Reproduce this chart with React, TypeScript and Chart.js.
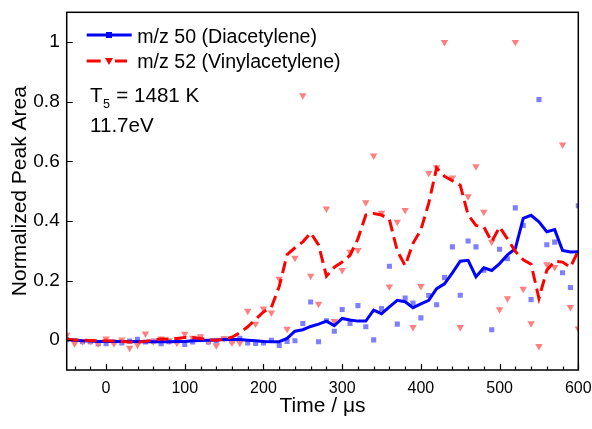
import React, { useEffect, useRef } from "react";
import { Chart, registerables } from "chart.js";

Chart.register(...registerables);

const FONT = 'Arial, "Liberation Sans", Helvetica, sans-serif';

const times = [
  -50, -40, -30, -20, -10, 0, 10, 20, 30, 40,
  50, 60, 70, 80, 90, 100, 110, 120, 130, 140,
  150, 160, 170, 180, 190, 200, 210, 220, 230, 240,
  250, 260, 270, 280, 290, 300, 310, 320, 330, 340,
  350, 360, 370, 380, 390, 400, 410, 420, 430, 440,
  450, 460, 470, 480, 490, 500, 510, 520, 530, 540,
  550, 560, 570, 580, 590, 600,
];

const diaPoints = [
  0.002, -0.002, -0.005, -0.005, -0.012, -0.012, -0.006, -0.009, -0.003, 0.003,
  -0.006, -0.003, -0.012, -0.005, -0.003, -0.014, -0.006, 0.005, -0.006, -0.003,
  0.005, -0.003, 0.006, -0.009, -0.011, -0.009, 0.0, -0.018, -0.004, -0.002,
  0.056, 0.128, -0.005, 0.065, 0.03, 0.103, 0.056, 0.116, 0.045, 0.001,
  0.106, 0.248, 0.054, 0.141, 0.125, 0.075, 0.15, 0.119, 0.21, 0.313,
  0.151, 0.333, 0.313, 0.235, 0.035, 0.305, 0.273, 0.444, 0.385, 0.136,
  0.807, 0.32, 0.329, 0.226, 0.177, 0.451,
];

const vinylPoints = [
  0.018, -0.012, -0.003, -0.003, -0.012, 0.005, -0.011, 0.002, -0.026, -0.016,
  0.022, -0.004, 0.005, -0.001, -0.009, 0.021, 0.008, 0.013, -0.003, -0.018,
  0.006, -0.008, -0.009, 0.098, 0.055, 0.106, 0.092, 0.206, 0.038, 0.276,
  0.821, 0.216, 0.122, 0.441, 0.064, 0.235, 0.296, 0.302, 0.462, 0.619,
  0.427, 0.18, 0.397, 0.436, 0.044, 0.181, 0.56, 0.58, 1.0, 0.545,
  0.044, 0.482, 0.583, 0.43, 0.33, 0.103, 0.14, 1.0, 0.172, 0.056,
  -0.02, 0.254, 0.245, 0.656, 0.111, 0.039,
];

const diaSmooth = [
  0.002, 0.0, -0.002, -0.003, -0.004, -0.004, -0.004, -0.004, -0.004, -0.004,
  -0.005, -0.005, -0.005, -0.005, -0.004, -0.004, -0.002, -0.001, 0.0, 0.001,
  0.002, 0.002, 0.002, 0.0, -0.002, -0.004, -0.005, -0.005, 0.006, 0.03,
  0.035, 0.046, 0.054, 0.064, 0.049, 0.073, 0.068, 0.064, 0.064, 0.101,
  0.089, 0.112, 0.134, 0.129, 0.109, 0.122, 0.134, 0.173, 0.189, 0.226,
  0.265, 0.268, 0.213, 0.243, 0.234, 0.257, 0.286, 0.307, 0.409, 0.419,
  0.397, 0.364, 0.371, 0.301, 0.296, 0.297,
];

const vinylSmooth = [
  0.003, 0.001, 0.0, -0.001, -0.002, -0.002, -0.003, -0.004, -0.006, -0.006,
  -0.004, 0.001, 0.004, 0.004, 0.006, 0.009, 0.009, 0.006, 0.002, 0.0,
  0.003, 0.01, 0.025, 0.045, 0.07, 0.095, 0.11, 0.18, 0.287, 0.31,
  0.33, 0.36, 0.32, 0.215, 0.245, 0.262, 0.285, 0.34, 0.42, 0.425,
  0.42, 0.405, 0.3, 0.25, 0.325, 0.37, 0.46, 0.578, 0.55, 0.535,
  0.52, 0.42, 0.385, 0.38, 0.33, 0.38, 0.34, 0.298, 0.27, 0.255,
  0.14, 0.235, 0.265, 0.262, 0.245, 0.3,
];

const xTicks = [0, 100, 200, 300, 400, 500, 600];
const yTicks = [0, 0.2, 0.4, 0.6, 0.8, 1];

const legendLabels = ["m/z 50 (Diacetylene)", "m/z 52 (Vinylacetylene)"];
const tempLabel = { main: "T", sub: "5", rest: " = 1481 K" };
const energyLabel = "11.7eV";
const xTitle = "Time / \u03bcs";
const yTitle = "Normalized Peak Area";

const BLUE = "#0000ff";
const RED = "#ff0000";
const BLUE_PT = "#7f7fff";
const RED_PT = "#ff8080";

const toXY = (ys: number[]) => ys.map((v, i) => ({ x: times[i], y: v }));

const decorPlugin = {
  id: "decor",
  afterDraw(chart: any) {
    const { ctx, chartArea: a, scales } = chart;
    const x = scales.x;
    const y = scales.y;
    ctx.save();
    // frame
    ctx.strokeStyle = "#000";
    ctx.lineWidth = 1.5;
    ctx.strokeRect(a.left, a.top, a.right - a.left, a.bottom - a.top);
    // inward ticks
    ctx.lineWidth = 1.2;
    ctx.beginPath();
    for (let v = -40; v <= 600; v += 20) {
      const px = Math.round(x.getPixelForValue(v)) + 0.5;
      const len = v % 100 === 0 ? 6 : 3.5;
      ctx.moveTo(px, a.bottom);
      ctx.lineTo(px, a.bottom - len);
    }
    for (const v of yTicks) {
      const py = Math.round(y.getPixelForValue(v)) + 0.5;
      ctx.moveTo(a.left, py);
      ctx.lineTo(a.left + 6, py);
    }
    ctx.stroke();

    // axis titles
    ctx.fillStyle = "#000";
    ctx.font = `21px ${FONT}`;
    ctx.textAlign = "center";
    ctx.textBaseline = "middle";
    ctx.fillText(xTitle, (a.left + a.right) / 2, 406);
    ctx.save();
    ctx.translate(20, (a.top + a.bottom) / 2);
    ctx.rotate(-Math.PI / 2);
    ctx.fillText(yTitle, 0, 0);
    ctx.restore();

    // legend
    const lx0 = 86.7;
    const lx1 = 131.7;
    const lm = 109;
    const r1 = 35;
    const r2 = 61;
    ctx.lineWidth = 3;
    ctx.strokeStyle = BLUE;
    ctx.beginPath();
    ctx.moveTo(lx0, r1);
    ctx.lineTo(lx1, r1);
    ctx.stroke();
    ctx.fillStyle = BLUE;
    ctx.fillRect(lm - 3, r1 - 3, 6, 6);

    ctx.strokeStyle = RED;
    ctx.beginPath();
    ctx.moveTo(lx0, r2);
    ctx.lineTo(100.7, r2);
    ctx.moveTo(115, r2);
    ctx.lineTo(127, r2);
    ctx.stroke();
    ctx.fillStyle = RED;
    ctx.beginPath();
    ctx.moveTo(lm - 4, r2 - 3);
    ctx.lineTo(lm + 4, r2 - 3);
    ctx.lineTo(lm, r2 + 4);
    ctx.closePath();
    ctx.fill();

    ctx.fillStyle = "#000";
    ctx.textAlign = "left";
    ctx.textBaseline = "alphabetic";
    ctx.font = `19.6px ${FONT}`;
    ctx.fillText(legendLabels[0], 137.3, 42.5);
    ctx.fillText(legendLabels[1], 137.3, 67.5);

    ctx.font = `20.6px ${FONT}`;
    ctx.fillText(tempLabel.main, 90, 101.7);
    const tw = ctx.measureText(tempLabel.main).width;
    ctx.font = `12.5px ${FONT}`;
    ctx.fillText(tempLabel.sub, 90 + tw + 0.5, 107.5);
    const sw = ctx.measureText(tempLabel.sub).width;
    ctx.font = `20.6px ${FONT}`;
    ctx.fillText(tempLabel.rest, 90 + tw + sw + 1, 101.7);
    ctx.fillText(energyLabel, 90, 131.7);
    ctx.restore();
  },
};

const zeroPad = (s: any) => {
  s.paddingLeft = 0;
  s.paddingRight = 0;
  s.paddingTop = 0;
  s.paddingBottom = 0;
};

export default function App() {
  const ref = useRef<HTMLCanvasElement>(null);
  useEffect(() => {
    const canvas = ref.current;
    if (!canvas) return;
    const chart = new Chart(canvas, {
      type: "line",
      data: {
        datasets: [
          {
            label: "vinyl-line",
            data: toXY(vinylSmooth),
            borderColor: RED,
            borderWidth: 3,
            borderDash: [12, 6],
            pointRadius: 0,
            fill: false,
            tension: 0,
            order: 0,
            clip: 0,
          } as any,
          {
            label: "dia-line",
            data: toXY(diaSmooth),
            borderColor: BLUE,
            borderWidth: 3,
            pointRadius: 0,
            fill: false,
            tension: 0,
            order: 1,
            clip: 0,
          },
          {
            label: "vinyl-pts",
            data: toXY(vinylPoints),
            showLine: false,
            pointStyle: "triangle",
            rotation: 180,
            pointRadius: 4.3,
            pointBorderWidth: 0,
            pointBackgroundColor: RED_PT,
            pointBorderColor: RED_PT,
            order: 2,
            clip: 0,
          },
          {
            label: "dia-pts",
            data: toXY(diaPoints),
            showLine: false,
            pointStyle: "rect",
            pointRadius: 3.6,
            pointBorderWidth: 0,
            pointBackgroundColor: BLUE_PT,
            pointBorderColor: BLUE_PT,
            order: 3,
            clip: 0,
          },
        ],
      },
      options: {
        animation: false,
        responsive: true,
        maintainAspectRatio: false,
        layout: { padding: { left: 0, right: 13.7, top: 12.3, bottom: 0 } },
        plugins: {
          legend: { display: false },
          tooltip: { enabled: false },
        },
        scales: {
          x: {
            type: "linear",
            min: -50,
            max: 600,
            grid: { display: false, drawTicks: false },
            border: { display: false },
            afterBuildTicks: (s: any) => {
              s.ticks = xTicks.map((v) => ({ value: v }));
            },
            afterFit: (s: any) => {
              s.height = 59;
              zeroPad(s);
            },
            ticks: {
              color: "#000",
              font: { family: FONT, size: 16 },
              padding: 9,
              maxRotation: 0,
              autoSkip: false,
              callback: (v: any) => String(v),
            },
          },
          y: {
            type: "linear",
            min: -0.1,
            max: 1.1,
            grid: { display: false, drawTicks: false },
            border: { display: false },
            afterBuildTicks: (s: any) => {
              s.ticks = yTicks.map((v) => ({ value: v }));
            },
            afterFit: (s: any) => {
              s.width = 66.7;
              zeroPad(s);
            },
            ticks: {
              color: "#000",
              font: { family: FONT, size: 19 },
              padding: 7,
              autoSkip: false,
              callback: (v: any) => String(Number(Number(v).toFixed(1))),
            },
          },
        },
      },
      plugins: [decorPlugin],
    });
    return () => chart.destroy();
  }, []);

  return (
    <div style={{ position: "absolute", left: 0, top: 0, width: 592, height: 429 }}>
      <canvas ref={ref} />
    </div>
  );
}
